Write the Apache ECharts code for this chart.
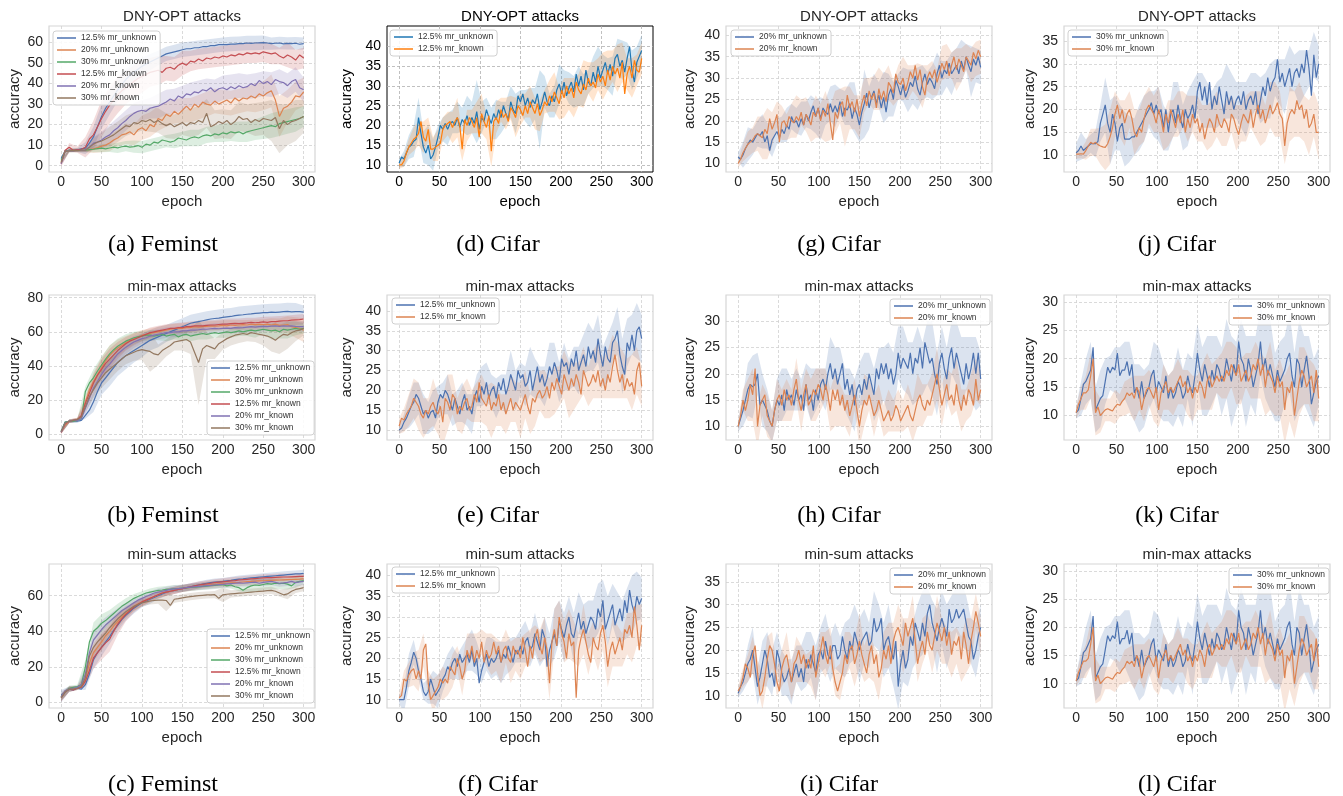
<!DOCTYPE html>
<html><head><meta charset="utf-8">
<script src="https://cdn.jsdelivr.net/npm/echarts@6/dist/echarts.min.js"></script>
<style>html,body{margin:0;padding:0;background:#fff}#c{width:1343px;height:796px}</style>
</head><body><div id="c"></div>
<script>
// ---------------- tick labels ----------------
const xTicks = [0, 50, 100, 150, 200, 250, 300];
const yTicks10to60 = [0, 10, 20, 30, 40, 50, 60];
const yTicks0to80 = [0, 20, 40, 60, 80];
const yTicks0to60 = [0, 20, 40, 60];
const yTicks10to40 = [10, 15, 20, 25, 30, 35, 40];
const yTicks10to35 = [10, 15, 20, 25, 30, 35];
const yTicks10to30 = [10, 15, 20, 25, 30];

// ---------------- series names ----------------
const femNames = ['12.5% mr_unknown', '20% mr_unknown', '30% mr_unknown', '12.5% mr_known', '20% mr_known', '30% mr_known'];
const cif125 = ['12.5% mr_unknown', '12.5% mr_known'];
const cif20 = ['20% mr_unknown', '20% mr_known'];
const cif30 = ['30% mr_unknown', '30% mr_known'];

// ---------------- (a) Feminst DNY-OPT : epochs 0..300 step 5, band half-width step 10 ----------------
const a_unk12 = [3.5,7.2,7.5,7.4,7.6,8.2,8.5,11,14,19, 24,28,31,34,37,39.5,42,44,45.5,47, 48.5,49.5,50.5,51.5,52.5,53.5,54.5,55,55.5,56, 56.5,57,57,57.5,57.5,58,58,58.5,58.5,59, 59,59,59.3,59.3,59.5,59.5,59.8,59.6,59.8,59.9, 60,59.8,59.5,59.7,59.8,59.4,59.6,59.5,59.7,59.2, 59.5];
const a_unk20 = [1.5,7,7.3,7.2,7.5,7.4,7.6,7.8,8.2,8.8, 9.5,10,11,12.5,13.5,15,15.5,16.5,15,17.5, 18.5,17,20,19,23,22,25,24,26.5,25, 27,29,27,30,28.5,31,30,29.5,31.5,30, 31,32,30.5,33,31.5,33,32.5,34,33,35, 34,35.5,36.5,32,24,28,29,31,34,33.5, 36];
const a_unk30 = [2.5,7.2,7.4,7.3,7.5,7.6,7.5,7.8,8,8.3, 8.5,8.2,8.6,9,8.7,9.2,9.5,9,9.3,9.8, 9,10.5,10,11.5,11,12.5,12,11.5,12,13.5, 13,12.5,13.5,14,13.5,14.5,15,14.5,15.5,15, 16,15.5,16.5,16,16.5,15.5,16.5,17,17.5,18, 18.5,19,19.5,19,20.5,21,21.5,22,22.5,23, 24];
const a_kn12 = [1,7.5,9,7.5,7.8,8,9,13,15,19, 23,26.5,29.5,32,34.5,36.5,38,39.5,41,42.5, 43.5,44.5,45.5,46,46.5,45.5,47.5,48,47,49, 50,49,51,50.5,52,51,52.5,52,53,52.5, 53.5,53,54,53.5,54.5,54,55,54.5,55,54.5, 55.5,55,54.5,55,53.5,52.5,54,53,51.5,54, 52.5];
const a_kn20 = [1,7,7.3,7.2,7.5,7.4,7.6,9,11,11.5, 12.5,14,15,17,18.5,20.5,22,24,25.5,26.5, 27,26.5,28,28.5,29,30,31,32.5,31.5,34, 33,35,34.5,36,35.5,37,36.5,38,36,37.5, 38,37,38.5,37.5,39,38,38.5,40,39,41.5, 40,41,39.5,42,41,40.5,39,41,42,38, 37];
const a_kn30 = [1.5,7,7.2,7.4,7.3,7.5,7.6,9,10.5,11.5, 12,13,14,15,16.5,18,19.5,19,21,20.5, 22,21.5,22.5,21,22,20.5,19.5,20.5,19,20, 21,19.5,21,20.5,22,21,25.5,19,20,21.5, 20.5,22,20,21.5,24,22.5,23,21,22.5,21.5, 23,22.5,22,23.5,18,22,20,21.5,22,23, 24];
const a_unk12_s = [1.5,0.8,1,3,5,6,6,5.5,5,5, 4,4,3.5,3.5,3.5,3.5,3.5,3.5,3.5,3.5, 3.5,3.5,3.5,3.5,3.5,3.5,3,3,3,3, 3];
const a_unk20_s = [1,0.8,0.8,1,2,3,4,4,5,5, 6,6,6,6,6,6,6,6,6,6, 6,6,6,6,7,7,8,10,8,7, 7];
const a_unk30_s = [1,0.8,0.8,1,1.5,2,2,2.5,2.5,3, 3,3,3,3,3.5,3.5,4,4,4,4, 4.5,4.5,5,5,5,5.5,6,6,6,6, 5];
const a_kn12_s = [1.5,2,1.5,5,7,9,9,9,8,8, 8,7,7,6,6,6,5,5,5,5, 5,5,5,5,5,5,5,4,6,5, 5];
const a_kn20_s = [1,0.8,0.8,1,3,4,5,5,5,5, 5,5,6,6,6,6,6,6,6,6, 6,6,6,6,6,6,6,6,6,6, 6];
const a_kn30_s = [1,0.8,0.8,1,3,4,5,5,5,5, 5,6,6,6,6,6,7,7,7,7, 7,7,7,7,8,8,10,12,10,10, 8];

// ---------------- (b) Feminst min-max ----------------
const b_unk12 = [1.5,7,7.5,7.8,7.5,8,11,14,19,25, 30,33,36,39,42,44,46,47.5,49,50.5, 52,53.5,55,56,57,58,59,60,61,62, 63,64,65,65.5,66,66.5,67,67.5,67.8,68, 68.5,68.8,69,69.5,69.8,70,70.3,70.5,70.8,71, 71.2,71.3,71.5,71.4,71.6,71.8,72,71.7,71.9,71.8, 71.5];
const b_unk20 = [1,5,7.5,8,8.5,10,19,26,31,35, 39,43,46,48.5,50.5,52,53.5,55,56,57, 58,58.5,59,59.5,60,60.5,61,61.5,61.8,62, 62,62.5,62.5,63,62.8,63,63.2,63.5,63.3,63.5, 63.8,63.5,64,63.8,64,64.2,64,64.5,64.2,64.5, 64.3,64.5,64,64.5,63.8,64,64.2,63,62.5,62, 61];
const b_unk30 = [1.5,7,7.5,7.5,8,9,25,30,33,37, 40.5,44,47,49.5,51.5,53,54.5,55.5,56.5,57, 57.5,58,58,57.5,58,58.5,57.5,58,58.5,57, 58,58.5,57.5,58,58.5,59,58.5,59,59.5,59, 59.5,60,59.5,60,60.5,60,60.5,61,60.5,61, 61.5,61,60.5,61,60,61.5,61,61.5,62,61.5, 62];
const b_kn12 = [1,6,7.5,8,8.5,11,18,24,30,34.5, 38,41.5,44,46.5,49,51,53,54.5,55.5,56.5, 57.5,58.5,59.5,60,60.5,61,61.5,62,62,62.5, 62.5,63,63,63.5,63.5,63.5,63.8,64,64,64.3, 64.5,64.5,64.8,65,64.8,65,65.2,65.5,65.3,65.5, 65.8,65.5,66,66,66.3,66.5,66.5,66.8,67,67.2, 67.5];
const b_kn20 = [1,6.5,7.5,8,8,9,15,21,27,31, 35,38.5,41,44,47,49,51,52.5,54,55, 56,56.5,57.5,58,58.5,59,59.5,59.5,60,60, 60.5,60.5,61,61,61.2,61.5,61.5,61.8,62,61.8, 62,62.2,62,62.5,62.3,62.5,62.8,63,62.8,63, 63.2,63,63.3,63.5,63.2,63.5,63.3,63.5,63.2,63, 63];
const b_kn30 = [1.5,6.5,7.5,8,8.5,10,16,22,26,30, 33,36,38,40,42,44,46,47,48,49, 49.5,49,48.5,47,46.5,49,50.5,52,54,54.5, 55,55.5,54,48,42,50,52,51,50,53, 54.5,56,57,58,58.5,59,58.5,59.5,59,58.5, 58,57.5,56.5,55,57,58.5,58,59.5,60.5,61, 62];
const b_unk12_s = [1,1,1,2,6,7,8,8,8,7, 7,6,6,5,5,5,5,5,5,5, 5,5,5,5,5,5,5,5,5,5, 4];
const b_unk20_s = [1,1,1,3,5,6,6,5,4,3.5, 3,3,3,3,3,3,3,3,3,3, 3,3,3,3,3,3,4,4,5,6, 7];
const b_unk30_s = [1,1,1,3,5,5,5,4.5,4,3.5, 3,3,3,3,3,3,3,3,3,3, 3,3,3,3,4,3,5,4,5,4, 3];
const b_kn12_s = [1,1,1,3,5,6,6,5,4,3.5, 3,3,3,3,3,3,3,3,3,3, 3,3,3,3,3,3,3,3,3,3, 3];
const b_kn20_s = [1,1,1,3,5,6,6,5,4,3.5, 3,3,3,3,3,3,3,3,3,3, 3,3,3,3,3,3,3,3,3,3, 3];
const b_kn30_s = [1,1,1,3,5,6,6,5,5,5, 6,12,6,5,5,6,7,25,8,6, 5,5,5,4,5,6,8,10,8,6, 4];

// ---------------- (c) Feminst min-sum ----------------
const c_unk12 = [4,6,7.5,7,8,7.5,10,16,24,28, 31,34,37,40.5,43.5,46.5,49,51,53,54.5, 56,57,58,59,60,61,62,62.5,63,63.5, 64,64.5,65,65.5,66,66.5,67,67.3,67.6,67.8, 68,68.3,68.6,69,69.3,69.5,69.8,70,70.2,70.4, 70.6,70.8,71,71.2,71.4,71.6,71.8,72,72.2,72.3, 72.5];
const c_unk20 = [3,6.5,7.5,7.5,8,9,13,22,28,31, 34,37.5,40,43,45.5,48,50,52,54,55.5, 56.5,57.5,58.5,59.5,60.5,61.5,62,62.5,63,63.5, 64,64.3,64.6,65,65.3,65.6,66,66.2,66.4,66.6, 66.8,67,67.2,67.4,67.5,67.7,67.9,68,68.2,68.3, 68.4,68.5,68.6,68.7,68.8,68.9,69,69.1,69.2,69.3, 69.5];
const c_unk30 = [3,6,8,8.5,9,10,20,34,40,42, 44.5,46,48,50,52,54,55.5,57,58.5,59.5, 60.5,61.5,62,62.5,63,63.2,63.5,63.7,64,64, 64.2,64.4,64.6,64.8,65,65.2,65.4,65.6,65.8,66, 66.2,65.5,66,65,64.5,63,64.5,65.5,66,65.8, 66.3,66.8,66.5,67,66.8,67,66.5,65.5,67.5,68, 68.5];
const c_kn12 = [2.5,6,7.5,7,8,8.5,12,18,25,28, 31,33.5,35.5,40,44,47,49.5,51.5,53.5,55, 56.5,57.5,58.5,59.5,60.5,61.5,62,62.5,63,63.5, 64,64.5,65,65.5,66,66.3,66.6,67,67.3,67.6, 67.8,68,68.3,68.5,68.8,69,69.2,69.4,69.6,69.8, 70,70.1,70.2,70.3,70.4,70.5,70.5,70.6,70.7,70.8, 70.8];
const c_kn20 = [3,6.5,7.5,8,8.5,10,16,28,35,38, 41,43.5,45.5,47.5,49.5,51.5,53,54.5,56,57.5, 58.5,59.5,60.5,61.5,62,62.5,63,63.5,63.8,64, 64.2,64.5,64.8,65,65.2,65.4,65.6,65.8,66,66.2, 66.4,66.6,66.8,67,67.2,67,67.2,67.4,67.6,67, 67.5,67.8,68,67.5,67,67.2,67.5,68,67.3,67.8, 68];
const c_kn30 = [2.5,6,7.5,7.5,8,9,14,26,31,34, 36.5,39,42,44.5,47,49,51,52.5,54,55, 56,56.5,57,57.3,57.5,57.5,57.3,54.5,58,58.3, 58.8,59.2,59.5,59.8,60,60.2,60.4,60.5,60.6,58.5, 60.5,60.8,61,61.2,61.4,61.5,61.8,62,62.2,62.4, 62.6,62.8,63,62.5,61.5,60.5,61,62.5,63.5,64, 64.5];
const c_unk12_s = [3,1.5,1,3,5,5,4,3.5,3,3, 2.5,2.5,2,2,2,2,2,2,2,2, 2,2,2,2,2,2,2,2,2,2, 2];
const c_unk20_s = [2,1.5,1,3,5,5,4,3.5,3,2.5, 2.5,2,2,2,2,2,2,2,2,2, 2,2,2,2,2,2,2,2,2,2, 2];
const c_unk30_s = [2,1.5,1,4,5,5,4,3.5,3,2.5, 2,2,2,2,2,2,2,2,2,2, 2,2,2,3,4,3,3,3,3,3, 2];
const c_kn12_s = [2,1.5,1,3,6,7,7,6,4,3, 2.5,2,2,2,2,2,2,2,2,2, 2,2,2,2,2,2,2,2,2,2, 2];
const c_kn20_s = [3,1.5,1,4,5,5,4,3.5,3,2.5, 2,2,2,2,2,2,2,2,2,2, 2,2,2,2,2,2,2,2,2,2, 2];
const c_kn30_s = [2,1.5,1,4,5,5,4,3.5,3,2.5, 2,2,2,6,2,2,2,2,2,2, 4,2,2,2,2,2,2,2,3,2, 2];

// ---------------- Cifar panels : epochs 0..300 step 3, band half-width step 6 ----------------
// (d) DNY-OPT 12.5%
const d_unk = [10.5,12,11.5,13,14.5,15,16,16.5,22,18, 14.5,13,15,11.5,12.5,14.5,17,20,19,20.5, 19,20.5,21,20,22,19.5,21.5,20.5,22.5,20, 22,20.5,23.5,19,22,21,24,22,20.5,23, 21.5,24,22,25,23,21.5,26,24,23,27.5, 26,28,25,27,24.5,26.5,25.5,28,24,26, 28.5,26,25,27.5,26,29,30.5,28,31,27.5, 29.5,31,28.5,33,30,32.5,29,34,31,30, 33.5,31,35,32,34,36,33,35.5,32.5,37, 38,35,36.5,33.5,37,40,34,31,36,37.5,39];
const d_kn = [10,10,11,13,14.5,15.5,16.5,17,18,21, 17,16,19,14,14,14.5,15,15.5,19,20, 20.5,21,19.5,21,22,20,14,21.5,20,22, 21,19.5,22,17,23,21,19.5,22.5,13.5,21, 22,20.5,24,22,23,21,24.5,23.5,22,25, 24,22.5,25,23,26,24.5,23,25.5,22.5,24, 26,25,27.5,26,28.5,27,25.5,29,27,30, 28,29.5,27,31,29,28,30.5,29,32,30, 31,29.5,33,31,32.5,30,34,31.5,35,33, 34.5,32,36,28,33,35,32,36.5,34,33.5,37];
const d_unk_s = [1,2,3,4,5,4,5,4,3,3, 4,3,4,3,5,4,8,4,3,4, 5,4,3,4,5,3,4,5,4,10, 4,3,4,5,3,4,4,5,4,3, 4,5,4,4,5,4,5,4,5,4, 4];
const d_kn_s = [1,1.5,2,3,3,4,3,3,4,3, 3,4,5,3,4,3,4,5,3,4, 4,3,4,3,5,4,3,4,4,4, 3,4,5,4,5,4,5,4,6,4, 5,4,6,5,4,6,5,4,5,4, 4];
// (g) DNY-OPT 20%
const g_unk = [11.5,11,12,13.5,14.5,15.5,15,16,17,16.5, 17.5,15,16.5,13,15.5,16.5,17.5,16,18,17, 19,18,21,19.5,20,18.5,20.5,19,21.5,20, 22,23.5,21,23,20.5,23,22,21.5,24,22, 23.5,22,24.5,21,23,22.5,24,20.5,23,21.5, 19,22,24,26.5,23,25.5,27,24,26,23, 25.5,22,26,27.5,25,29.5,28,26,28.5,25.5, 27,29,28,30.5,27.5,26,29,31,28.5,30, 29,27.5,31,33,30,32,31,33.5,31,32, 33,31,34,32,35,33,31.5,34.5,33,35,32.5];
const g_kn = [10,11,12.5,13.5,14.5,15,15.5,16.5,17,16.5, 16,18,17,20.5,18,19.5,21.5,15,19.5,20, 18.5,21,20,19.5,21,20,22,19,21.5,20.5, 19,22,21,23,20,22.5,21,24,19.5,15.5, 22,20.5,23.5,24.5,21,26,23,24.5,22,25, 21,24,26,23.5,27,25,26.5,23,27.5,25, 27,24.5,29,28,26.5,31,29,28.5,30,27, 29,31.5,30,33,29.5,32,28,26,30,31.5, 30,32,29,31,33.5,32,34,30.5,33,35, 32,34.5,33,31.5,35,34,33,36,34.5,36.5,35];
const g_unk_s = [1,3,4,3,3,4,3,4,3,3, 4,3,3,4,3,4,4,5,3,4, 5,3,4,5,6,4,8,5,4,3, 6,5,4,3,4,5,4,5,4,3, 4,5,4,3,5,4,5,3,6,4, 4];
const g_kn_s = [1,2,3,3,4,5,6,4,3,4, 3,4,5,3,4,4,5,4,6,4, 5,4,7,5,4,5,4,3,4,5, 4,4,3,4,5,4,3,4,5,3, 4,3,4,4,3,5,4,3,4,4, 4];
// (j) DNY-OPT 30%
const j_unk = [10.5,11,12,11,11.5,12,12.5,12.5,12.5,13, 17,19,21,17,15,19,17,13,16,17, 13.5,13.5,13.5,14,14,15,16,17,18,19, 20,21.5,19,21,19,20,16,20,15,19, 20,17,21,18,16,20,18,19,21,18, 24,26,22,25,21,26,20,23,21,25, 22,19,24,21,23,20,22,23,21,24, 20,22,23,21,24,19,22,25,23,27, 24,26,27,31,26,28,25,27,29,25, 28,29,27,30,28,33,29,23,32,27,30];
const j_kn = [10.2,10.2,10.3,10.2,11,12,12.8,12.5,12.8,12.3, 12,11.8,11.7,12.5,14,16,19,21,18,20, 17,19,20,18,15,14,16,15,18,20, 21,20,19,17,20,18,15,19,17,20, 18,16,19,17,20,15,18,16,19,17, 18,15,17,13.5,16,18,17,15,19,17, 16,18,17,15,19,18,16,14.5,17,19, 18,17,20,16,19,21,18,20,17,19, 21,19,20,21.5,19,18,12,17,19,20, 19,22,20,21,18,20,16,17,19,15,15];
const j_unk_s = [2,3,2,2,3,4,6,7,6,5, 6,5,4,5,5,4,5,6,5,4, 6,5,5,6,5,4,6,5,4,5, 5,6,5,4,5,6,5,4,5,5, 6,4,5,6,5,4,6,5,4,5, 4];
const j_kn_s = [1,1,2,3,3,4,5,6,5,4, 5,4,5,4,5,4,4,5,4,5, 4,5,4,5,4,5,4,5,5,5, 4,5,4,5,4,5,4,5,6,4, 5,6,5,4,6,5,6,5,6,5, 6];
// (e) min-max 12.5%
const e_unk = [10,10.5,12,13,14.5,16,17,19,18,16, 14,15,13,14.5,15,13,17,19,18,20, 19,17,15,18,16,14,17,19,15,16, 14,18,20,17,21,19,22,18,20,21, 18,22,20,23,19,21,24,22,20,25, 23,24,21,22,25,20,23,26,22,24, 21,23,26,24,27,25,22,28,26,27, 24,28,26,30,25,27,29,26,31,28, 30,27,33,29,26,31,28,27,32,33, 35,29,26,24,32,30,34,30,35,36,33];
const e_kn = [11,13,12.5,14,15,16,18,17,16,14, 13,15,14,16,17,15,14,16,12,18, 17,15,19,18,14,16,15,17,18,15, 16,19,17,22,18,17,16,19,15,17, 16,19,15,17,14,16,18,15,17,16, 15,17,19,16,14,18,17,19,20,18, 19,21,18,22,20,23,21,19,24,22, 20,23,21,24,22,19,25,23,21,22, 24,22,25,21,23,20,24,22,26,29, 25,22,24,20,23,21,22,19,25,27,21];
const e_unk_s = [1,2,4,5,4,5,4,5,4,4, 5,4,4,5,4,5,4,5,5,4, 5,4,5,6,5,4,5,6,5,4, 5,6,5,5,6,4,5,6,5,6, 5,6,5,6,5,6,7,6,5,7, 6];
const e_kn_s = [2,3,4,5,6,5,4,6,5,6, 7,5,4,6,5,4,5,6,5,7, 5,4,5,6,5,7,6,5,6,5, 6,5,6,5,6,7,6,5,6,5, 6,7,5,6,8,7,6,5,7,6, 5];
// (h) min-max 20%
const h_unk = [10,11.5,13,15,17,18,17.5,18,20,14, 15,14,13,11,10,13,15,14,16,13, 17,15,16,14,17,15,16,13,18,15, 16,13,17,15,18,19,17,20,22,19, 21,18,20,22,17,19,16,18,14,17, 18,16,19,17,20,18,16,21,19,22, 20,22,19,21,18,20,24,21,23,22, 21,24,20,23,22,25,21,26,24,22, 23,20,18,22,24,21,19,23,25,21, 24,22,20,18,22,19,21,24,20,24,19];
const h_kn = [10,12,15,13,15,18,16,21,10,14, 15,16,12,11,10,13,15,16,14,17, 15,16,14,17,19,15,13,16,18,14, 15,17,16,18,17,15,18,16,13,17, 15,17,14,16,13,15,12,14,16,13, 10,13,15,14,16,14,12,13,15,13, 11,12,13,11,12,14,13,11,12,13, 14,12,11,13,15,16,14,13,15,14, 16,18,20,17,14,16,18,15,16,14, 18,15,13,16,14,17,16,14,19,15,17];
const h_unk_s = [1,3,5,6,4,5,4,3,4,5, 4,3,4,3,4,5,4,3,4,5, 4,5,4,5,5,4,5,4,5,6, 5,7,6,5,6,5,6,7,5,6, 7,6,5,6,5,6,7,5,6,7, 5];
const h_kn_s = [1,2,4,5,4,3,4,3,4,3, 4,3,4,4,3,4,5,4,3,4, 5,4,3,4,3,4,5,3,4,3, 3,4,3,4,3,4,4,5,4,3, 4,5,4,3,4,5,4,3,4,4, 3];
// (k) and (l) min-max 30%
const k_unk = [10.5,11,13,15.5,16,17,18,22,11,12, 13,13.5,16,18.5,17.5,18.5,18,21,17,18, 18,19.5,17,19,14,15,13,16,13,14, 15,17,18,14,16,15,14,17,13,15, 13,14,16,15,13,14,17,15,14,17, 21,18,16,19,17,15,18,16,19,18, 16,17,20,18,16,19,17,23,20,19, 16,20,18,15,17,19,23,18,20,17, 19,17,15,18,16,17,18,20,21,17, 15,20,19,15,18,20.5,17,12,14,16,17];
const k_kn = [10.5,12,13,14,14,14.5,17,20,10.5,11.5, 10,10.5,11,11.2,11,10.8,11.5,12,11.8,12.5, 13,14,13.5,14,13,15,14,11,13,14.5, 15,14,13,15,11,14,15,16,14,15, 14,15,16,17,15,16,14,15,13,15, 14,16,15,13,16,17,15,16,17,16, 17,16,18,17,19,18,17,19,16,17, 18,16,17,19,18,20,17,19,15,18, 17,16,14,17,15,16,11,15,14,16, 10,13,16,18,17,15,16,17,14,18,13];
const k_unk_s = [1,3,4,5,4,5,4,3,4,5, 5,6,5,6,5,4,5,6,5,4, 5,6,5,4,6,5,6,7,6,5, 6,7,8,6,7,8,6,7,6,7, 8,6,7,6,7,6,8,6,7,6, 5];
const k_kn_s = [1,2,3,4,4,3,2,2,3,2, 3,3,4,3,4,3,4,3,4,3, 4,4,3,4,4,3,4,5,4,3, 4,5,4,5,4,3,4,5,4,5, 6,4,5,6,5,4,6,5,4,5, 4];
// (f) min-sum 12.5%
const f_unk = [10,10,10,13,17,19,21.5,20,17,15, 12,11,12,15,13,11,12,13,15,16, 18,17,19,20,18,21,19,20,21,19, 22,18,20,14,17,19,21,18,20,19, 20,22,19,21,20,23,21,19,22,21, 23,21,24,25,22,23,26,24,22,27, 25,18,22,24,26,23,29,27,25,28, 30,26,25,28,31,27,29,26,28,30, 29,27,32,30,34,27,29,31,33,28, 30,32,29,34,31,36.5,33,31,35,33,34.5];
const f_kn = [10.5,11,15,14.5,16,17,17.5,15,17,15, 22,23.5,14,10,11,12,13,15,14,15, 14,18,17,16,20,18,15,17,22,20, 23,19,22,20,24,19,22,20,21,24, 21,23,19,22,23,20,19,23,21,22, 20,25,22,18,23,20,25,27,23,21, 25,22,14,24,27,23,30,26,24,20, 26,23,24,10.5,22,25,27,24,21,19, 25,23,22,26,28,24,18,22,24,21, 23,25,22,27,26,28,25,32.5,28,22,28];
const f_unk_s = [1,3,4,3,2,2,3,4,4,3, 3,4,3,4,4,5,4,3,4,5, 4,5,4,4,3,4,5,4,5,4, 5,4,6,5,6,5,6,5,4,6, 5,6,5,6,5,6,5,6,7,6, 5];
const f_kn_s = [1,2,3,4,5,4,3,4,3,4, 3,4,3,4,4,3,4,3,4,5, 4,5,4,5,4,5,4,4,3,4, 5,4,5,4,5,6,5,4,6,5, 4,5,6,5,6,5,4,5,6,5, 5];
// (i) min-sum 20%
const i_unk = [10.5,12,13,15,17,18,20,16,12,14, 17,20,18,14,15,12,20,18,15,13, 14,16,13,15,17,14,16,13,18,16, 19,17,15,19,20,18,22,19,18,21, 21,18,19,23,20,18,22,20,24,22, 20,22,23,24,21,22,27,24,25,27, 20,22,23,20,18,22,12,17,20,16, 18,23,21,26,24,22,26,23,28,30, 26,24,22,25,27,25,23,29,26,27, 29,27,28,29,26,23,22,18,20,23,25];
const i_kn = [11,12,14,17,16,14,19,21,15,10, 11,14,18,21,20,17,13,11,16,18, 19,16,13,17,18,20,17,19,16,18, 16,21,14,17,20,23,19,17,21,16, 13,11,13,15,19,17,20,21,17,19, 22,19,17,15,19,21,17,19,14,16, 20,18,21,17,22,24,25,23,21,26, 23,25,27,22,17,20,22,19,24,21, 20,23,26,24,22,25,21,24,19,22, 21,23,18,24,21,17,22,25,28.5,26,23];
const i_unk_s = [1,2,4,5,4,5,6,5,4,5, 4,5,4,5,6,5,6,5,6,5, 5,4,6,5,6,7,6,5,6,5, 6,7,6,5,7,6,5,6,7,6, 5,7,6,7,6,5,7,6,5,6, 5];
const i_kn_s = [1,2,3,4,3,4,5,4,3,4, 5,4,5,4,3,4,5,4,5,4, 3,4,5,4,5,6,4,5,4,5, 4,5,4,5,6,4,5,4,5,4, 5,6,5,4,5,4,5,6,5,4, 4];

// ---------------- styling / layout ----------------
const FONT = '"Liberation Sans", Arial, Helvetica, sans-serif';
const SERIF = '"Liberation Serif", "Times New Roman", serif';
const SNS = ['#4c72b0', '#dd8452', '#55a868', '#c44e52', '#8172b3', '#937860'];
const SNS2 = ['#4c72b0', '#dd8452'];
const TAB = ['#1f77b4', '#ff7f0e'];
const colLeft = [49, 387, 726, 1064];
const rowTop = [26, 295, 564];
const rowH = [146, 145, 144];
const W = 266;
const titleY = [16.5, 287, 555];
const capY = [245, 516, 785];
const capX = [163, 498, 839, 1177];
const yNameGap = [27, 33, 29, 27];

const panels = [
  {col:0,row:0,title:'DNY-OPT attacks',cap:'(a) Feminst',ymin:-3.1,ymax:68.1,yt:yTicks10to60,names:femNames,colors:SNS,step:5,bstep:10,leg:[53,31],
   lines:[a_unk12,a_unk20,a_unk30,a_kn12,a_kn20,a_kn30], spreads:[a_unk12_s,a_unk20_s,a_unk30_s,a_kn12_s,a_kn20_s,a_kn30_s]},
  {col:1,row:0,title:'DNY-OPT attacks',cap:'(d) Cifar',ymin:8.2,ymax:45.2,yt:yTicks10to40,names:cif125,colors:TAB,step:3,bstep:6,leg:[390,30],mpl:true,
   lines:[d_unk,d_kn], spreads:[d_unk_s,d_kn_s]},
  {col:2,row:0,title:'DNY-OPT attacks',cap:'(g) Cifar',ymin:8.0,ymax:42.2,yt:yTicks10to40,names:cif20,colors:SNS2,step:3,bstep:6,leg:[731,30],
   lines:[g_unk,g_kn], spreads:[g_unk_s,g_kn_s]},
  {col:3,row:0,title:'DNY-OPT attacks',cap:'(j) Cifar',ymin:6.3,ymax:38.3,yt:yTicks10to35,names:cif30,colors:SNS2,step:3,bstep:6,leg:[1068,30],
   lines:[j_unk,j_kn], spreads:[j_unk_s,j_kn_s]},
  {col:0,row:1,title:'min-max attacks',cap:'(b) Feminst',ymin:-3.5,ymax:81.6,yt:yTicks0to80,names:femNames,colors:SNS,step:5,bstep:10,leg:[207,361],
   lines:[b_unk12,b_unk20,b_unk30,b_kn12,b_kn20,b_kn30], spreads:[b_unk12_s,b_unk20_s,b_unk30_s,b_kn12_s,b_kn20_s,b_kn30_s]},
  {col:1,row:1,title:'min-max attacks',cap:'(e) Cifar',ymin:7.5,ymax:44.0,yt:yTicks10to40,names:cif125,colors:SNS2,step:3,bstep:6,leg:[392,298],
   lines:[e_unk,e_kn], spreads:[e_unk_s,e_kn_s]},
  {col:2,row:1,title:'min-max attacks',cap:'(h) Cifar',ymin:7.4,ymax:35.0,yt:yTicks10to30,names:cif20,colors:SNS2,step:3,bstep:6,leg:[890,299],
   lines:[h_unk,h_kn], spreads:[h_unk_s,h_kn_s]},
  {col:3,row:1,title:'min-max attacks',cap:'(k) Cifar',ymin:5.7,ymax:31.2,yt:yTicks10to30,names:cif30,colors:SNS2,step:3,bstep:6,leg:[1229,299],
   lines:[k_unk,k_kn], spreads:[k_unk_s,k_kn_s]},
  {col:0,row:2,title:'min-sum attacks',cap:'(c) Feminst',ymin:-3.1,ymax:77.8,yt:yTicks0to60,names:femNames,colors:SNS,step:5,bstep:10,leg:[207,629],
   lines:[c_unk12,c_unk20,c_unk30,c_kn12,c_kn20,c_kn30], spreads:[c_unk12_s,c_unk20_s,c_unk30_s,c_kn12_s,c_kn20_s,c_kn30_s]},
  {col:1,row:2,title:'min-sum attacks',cap:'(f) Cifar',ymin:8.0,ymax:42.8,yt:yTicks10to40,names:cif125,colors:SNS2,step:3,bstep:6,leg:[392,567],
   lines:[f_unk,f_kn], spreads:[f_unk_s,f_kn_s]},
  {col:2,row:2,title:'min-sum attacks',cap:'(i) Cifar',ymin:7.3,ymax:38.9,yt:yTicks10to35,names:cif20,colors:SNS2,step:3,bstep:6,leg:[890,568],
   lines:[i_unk,i_kn], spreads:[i_unk_s,i_kn_s]},
  {col:3,row:2,title:'min-max attacks',cap:'(l) Cifar',ymin:5.7,ymax:31.2,yt:yTicks10to30,names:cif30,colors:SNS2,step:3,bstep:6,leg:[1229,568],
   lines:[k_unk,k_kn], spreads:[k_unk_s,k_kn_s]}
];

function bandRenderer(line, spread, step, bstep, color) {
  return function (params, api) {
    const r = bstep / step, up = [], lo = [];
    for (let k = 0; k < spread.length && k * r < line.length; k++) {
      const x = k * bstep, y = line[k * r];
      up.push(api.coord([x, y + spread[k]]));
      lo.push(api.coord([x, y - spread[k]]));
    }
    return {type: 'polygon', silent: true, shape: {points: up.concat(lo.reverse())}, style: {fill: color, opacity: 0.2}};
  };
}

const option = {animation: false, backgroundColor: '#ffffff', grid: [], xAxis: [], yAxis: [], series: [], legend: [], graphic: []};

panels.forEach((p, i) => {
  const mpl = !!p.mpl;
  const txt = mpl ? '#000000' : '#262626';
  const gl = {type: [3, 2], color: mpl ? '#b0b0b0' : '#d0d0d0', width: 0.8};
  option.grid.push({left: colLeft[p.col], top: rowTop[p.row], width: W, height: rowH[p.row], show: true,
    borderColor: mpl ? '#000000' : '#d6d6d6', borderWidth: mpl ? 1 : 1.2});
  option.xAxis.push({type: 'value', gridIndex: i, min: -15, max: 314,
    axisLine: {show: false}, axisTick: {show: false, customValues: xTicks},
    axisLabel: {customValues: xTicks, fontSize: 14, fontFamily: FONT, color: txt, margin: 3},
    splitLine: {show: true, lineStyle: gl},
    name: 'epoch', nameLocation: 'middle', nameGap: 22, nameTextStyle: {fontSize: 15, fontFamily: FONT, color: txt}});
  option.yAxis.push({type: 'value', gridIndex: i, min: p.ymin, max: p.ymax,
    axisLine: {show: false}, axisTick: {show: false, customValues: p.yt},
    axisLabel: {customValues: p.yt, fontSize: 14, fontFamily: FONT, color: txt, margin: 6},
    splitLine: {show: true, lineStyle: gl},
    name: 'accuracy', nameLocation: 'middle', nameRotate: 90, nameGap: yNameGap[p.col],
    nameTextStyle: {fontSize: 15, fontFamily: FONT, color: txt}});
  p.lines.forEach((arr, k) => {
    option.series.push({type: 'custom', xAxisIndex: i, yAxisIndex: i, silent: true, z: 1, clip: true,
      data: [[0, 0]], renderItem: bandRenderer(arr, p.spreads[k], p.step, p.bstep, p.colors[k])});
  });
  p.lines.forEach((arr, k) => {
    const c = p.colors[k];
    option.series.push({type: 'line', name: p.names[k], xAxisIndex: i, yAxisIndex: i, z: 2, silent: true,
      data: arr.map((v, j) => [j * p.step, v]), showSymbol: false, symbol: 'none',
      lineStyle: {width: 1.2, color: c}, itemStyle: {color: c}});
  });
  option.legend.push({orient: 'vertical', left: p.leg[0], top: p.leg[1], selectedMode: false,
    data: p.names.map((n, k) => ({name: n, icon: 'rect', itemStyle: {color: p.colors[k]}, lineStyle: {color: p.colors[k]}})),
    itemWidth: 19, itemHeight: 1.5, itemGap: 2, padding: [2, 4, 2, 4],
    backgroundColor: 'rgba(255,255,255,0.85)', borderColor: '#d0d0d0', borderWidth: 1, borderRadius: 3,
    textStyle: {fontSize: 8.5, fontFamily: FONT, color: '#333333', lineHeight: 10}});
  option.graphic.push({type: 'text', x: colLeft[p.col] + W / 2, y: titleY[p.row], silent: true,
    style: {text: p.title, fontSize: 15, fontFamily: FONT, fill: txt, align: 'center', verticalAlign: 'middle'}});
  option.graphic.push({type: 'text', x: capX[p.col], y: capY[p.row], silent: true,
    style: {text: p.cap, fontSize: 24, fontFamily: SERIF, fill: '#000000', align: 'center', verticalAlign: 'middle'}});
});

const chart = echarts.init(document.getElementById('c'), null, {renderer: 'canvas'});
chart.setOption(option);
</script>
</body></html>
